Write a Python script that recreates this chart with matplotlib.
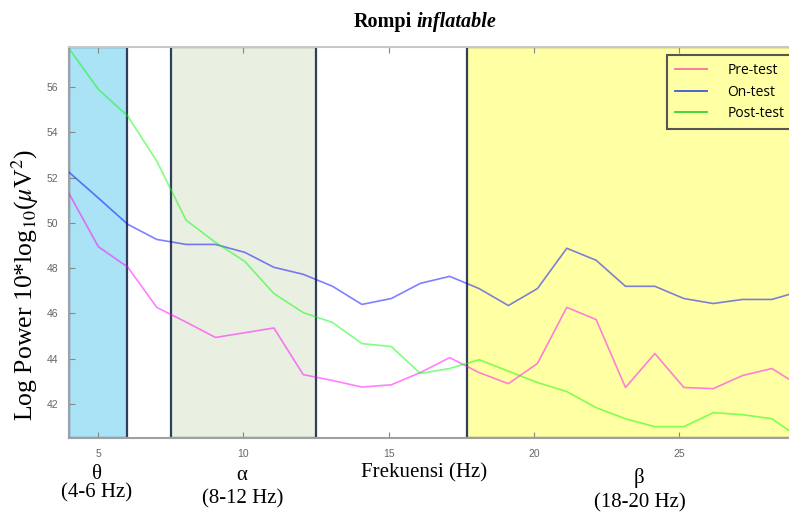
import matplotlib
matplotlib.use("Agg")
import matplotlib.pyplot as plt
from matplotlib.patches import Rectangle
from matplotlib.lines import Line2D
import numpy as np

plt.rcParams['mathtext.fontset'] = 'stix'

# frekuensi (Hz) dan log power tiap kondisi
freq = [4.00, 5.01, 6.02, 7.02, 8.03, 9.04, 10.05, 11.05, 12.06, 13.07, 14.08, 15.09, 16.09,
        17.10, 18.11, 19.12, 20.12, 21.13, 22.14, 23.15, 24.16, 25.16, 26.17, 27.18, 28.19, 29.20]
pre_test = [51.30, 48.95, 48.05, 46.27, 45.62, 44.94, 45.15, 45.36, 43.30, 43.04, 42.75, 42.85, 43.39,
            44.05, 43.39, 42.90, 43.79, 46.27, 45.73, 42.73, 44.23, 42.73, 42.68, 43.26, 43.57, 42.75]
on_test = [52.24, 51.10, 49.94, 49.27, 49.05, 49.05, 48.70, 48.04, 47.73, 47.20, 46.40, 46.66, 47.33,
           47.64, 47.10, 46.35, 47.10, 48.88, 48.35, 47.20, 47.20, 46.66, 46.44, 46.62, 46.62, 47.00]
post_test = [57.70, 55.90, 54.72, 52.73, 50.12, 49.14, 48.30, 46.88, 46.04, 45.60, 44.67, 44.54, 43.35,
             43.57, 43.96, 43.45, 42.95, 42.55, 41.84, 41.35, 41.00, 41.00, 41.62, 41.53, 41.35, 40.45]
labels = ["Pre-test", "On-test", "Post-test"]

# pita frekuensi: (mulai, selesai, warna)
bands = [(4.0, 6.0, "#aae2f6"), (7.5, 12.5, "#e9f0e1"), (17.7, 30.0, "#ffffa3")]

W, H = 789, 512
fig = plt.figure(figsize=(W / 100, H / 100), dpi=100)
ax = fig.add_axes([69 / W, (H - 438) / H, (W - 69) / W, (438 - 47) / H])

for x0, x1, c in bands:
    ax.add_patch(Rectangle((x0, 40.5), x1 - x0, 57.77 - 40.5, facecolor=c,
                           edgecolor="#2e3f5c", linewidth=1.6, zorder=1))

ax.plot(freq, pre_test, color="magenta", alpha=0.5, lw=1.2, zorder=3)
ax.plot(freq, on_test, color="blue", alpha=0.5, lw=1.2, zorder=3)
ax.plot(freq, post_test, color="lime", alpha=0.5, lw=1.2, zorder=3)

ax.set_xlim(4, 4 + (W - 68) / 29.1)
ax.set_ylim(40.5, 57.77)
ax.set_xticks([5, 10, 15, 20, 25])
ax.set_yticks([42, 44, 46, 48, 50, 52, 54, 56])
ax.tick_params(direction="in", length=4, color="#888888", labelcolor="#666666",
               labelsize=7.5, top=True, pad=8)
for lab in ax.get_xticklabels() + ax.get_yticklabels():
    lab.set_family("Liberation Sans")
ax.spines["right"].set_visible(False)
ax.spines["top"].set_color("#c8c8c8")
ax.spines["bottom"].set_color("#a0a0a0")
ax.spines["left"].set_color("#a0a0a0")
for s in ax.spines.values():
    s.set_linewidth(1.5)

handles = [Line2D([], [], color="#ff6f9a", lw=1.3),
           Line2D([], [], color="#3a5bd0", lw=1.3),
           Line2D([], [], color="#33d633", lw=1.3)]
leg = ax.legend(handles, labels, loc="upper left", bbox_to_anchor=(667 / W, 1 - 55 / H),
                bbox_transform=fig.transFigure, fancybox=False, framealpha=1,
                facecolor="#ffffa3", edgecolor="#555555", borderaxespad=0,
                prop={"family": "Open Sans", "size": 10}, handlelength=2.3,
                handletextpad=1.45, labelspacing=0.45, borderpad=0.6)
leg.get_frame().set_linewidth(1.5)
leg.set_zorder(5)

serif = "Liberation Serif"
fig.text(412 / W, 1 - 27 / H, "Rompi", family=serif, weight="bold", size=14.5,
         ha="right", va="baseline")
fig.text(416 / W, 1 - 27 / H, "inflatable", family=serif, weight="bold", style="italic",
         size=14.5, ha="left", va="baseline")

fig.text(25 / W, 1 - 285 / H, r"Log Power 10*log$_{10}$($\mu$V$^2$)", family=serif,
         size=18.5, rotation=90, ha="center", va="center")

fig.text(97 / W, 1 - 479 / H, "θ", family=serif, size=15, ha="center", va="baseline")
fig.text(97 / W, 1 - 497 / H, "(4-6 Hz)", family=serif, size=15, ha="center", va="baseline")
fig.text(242 / W, 1 - 480 / H, "α", family=serif, size=15, ha="center", va="baseline")
fig.text(243 / W, 1 - 503 / H, "(8-12 Hz)", family=serif, size=15, ha="center", va="baseline")
fig.text(424 / W, 1 - 477 / H, "Frekuensi (Hz)", family=serif, size=15, ha="center", va="baseline")
fig.text(639 / W, 1 - 483 / H, "β", family=serif, size=15, ha="center", va="baseline")
fig.text(640 / W, 1 - 507 / H, "(18-20 Hz)", family=serif, size=15, ha="center", va="baseline")

fig.savefig("out.png", dpi=100)
